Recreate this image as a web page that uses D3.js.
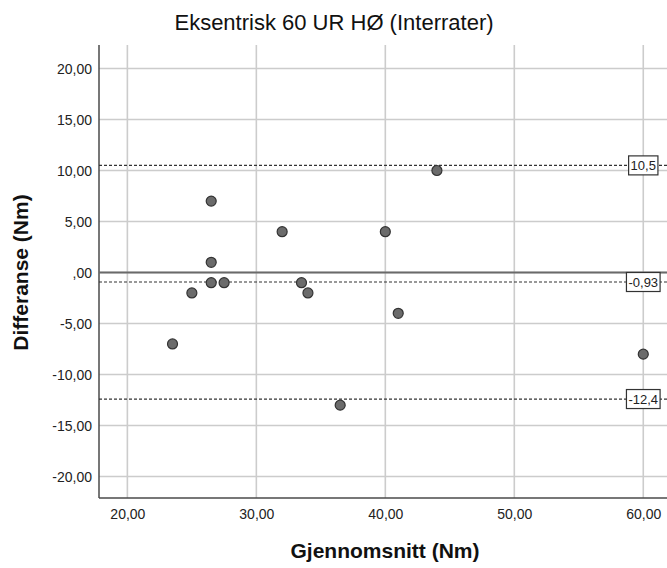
<!DOCTYPE html>
<html>
<head>
<meta charset="utf-8">
<script src="https://cdn.jsdelivr.net/npm/d3@7"></script>
<style>
  html, body { margin: 0; padding: 0; background: #fff; }
  svg { display: block; font-family: "Liberation Sans", Arial, sans-serif; }
</style>
</head>
<body>
<svg id="chart" width="667" height="568"></svg>
<script>
// Bland-Altman data: mean of the two raters vs. their difference
const meanVals = [23.5, 25, 26.5, 26.5, 26.5, 27.5, 32, 33.5, 34, 36.5, 40, 41, 44, 60];
const diffVals = [-7, -2, 7, 1, -1, -1, 4, -1, -2, -13, 4, -4, 10, -8];

// Reference lines: upper limit, mean difference, lower limit
const refVals = [10.5, -0.93, -12.4];
const refLabels = ["10,5", "-0,93", "-12,4"];

const xTicks = [20, 30, 40, 50, 60];
const xTickLabels = ["20,00", "30,00", "40,00", "50,00", "60,00"];
const yTicks = [-20, -15, -10, -5, 0, 5, 10, 15, 20];
const yTickLabels = ["-20,00", "-15,00", "-10,00", "-5,00", ",00", "5,00", "10,00", "15,00", "20,00"];

const titleText = "Eksentrisk 60 UR HØ (Interrater)";
const xTitle = "Gjennomsnitt (Nm)";
const yTitle = "Differanse (Nm)";

const svg = d3.select("#chart");
const W = 667, H = 568;
const plot = { left: 99, right: 667, top: 45, bottom: 498 };

const x = d3.scaleLinear().domain([17.8, 61.84]).range([plot.left, plot.right]);
const y = d3.scaleLinear().domain([-22.1, 22.3]).range([plot.bottom, plot.top]);

// grid lines
const grid = svg.append("g");
grid.selectAll("line.gx").data(xTicks).join("line")
  .attr("x1", d => x(d)).attr("x2", d => x(d))
  .attr("y1", plot.top).attr("y2", plot.bottom)
  .attr("stroke", "#cccccc").attr("stroke-width", 1.6);
grid.selectAll("line.gy").data(yTicks).join("line")
  .attr("x1", plot.left).attr("x2", plot.right)
  .attr("y1", d => y(d)).attr("y2", d => y(d))
  .attr("stroke", "#cccccc").attr("stroke-width", 1.6);

// axes
const xAxis = d3.axisBottom(x).tickValues(xTicks)
  .tickFormat((d, i) => xTickLabels[i]).tickSize(0).tickPadding(11);
const yAxis = d3.axisLeft(y).tickValues(yTicks)
  .tickFormat((d, i) => yTickLabels[i]).tickSize(0).tickPadding(7);

const gx = svg.append("g").attr("transform", `translate(0,${plot.bottom})`).call(xAxis);
const gy = svg.append("g").attr("transform", `translate(${plot.left},0)`).call(yAxis);
[gx, gy].forEach(g => {
  g.select(".domain").remove();
  g.selectAll("text").attr("font-size", 14).attr("fill", "#222")
    .attr("font-family", "Liberation Sans, Arial, sans-serif");
});
gy.selectAll("text").attr("dy", "0.35em");

svg.append("line")
  .attr("x1", plot.left).attr("x2", plot.left)
  .attr("y1", plot.top).attr("y2", plot.bottom)
  .attr("stroke", "#4a4a4a").attr("stroke-width", 1.5);
svg.append("line")
  .attr("x1", plot.left).attr("x2", plot.right)
  .attr("y1", plot.bottom).attr("y2", plot.bottom)
  .attr("stroke", "#4a4a4a").attr("stroke-width", 1.5);

// zero line
svg.append("line")
  .attr("x1", plot.left).attr("x2", plot.right)
  .attr("y1", y(0)).attr("y2", y(0))
  .attr("stroke", "#6a6a6a").attr("stroke-width", 2);

// dashed reference lines
svg.append("g").selectAll("line").data(refVals).join("line")
  .attr("x1", plot.left).attr("x2", plot.right)
  .attr("y1", d => y(d)).attr("y2", d => y(d))
  .attr("stroke", "#333").attr("stroke-width", 1.2)
  .attr("stroke-dasharray", "3,2");

// points
svg.append("g").selectAll("circle").data(meanVals).join("circle")
  .attr("cx", d => x(d))
  .attr("cy", (d, i) => y(diffVals[i]))
  .attr("r", 5)
  .attr("fill", "#6b6b6b")
  .attr("stroke", "#333")
  .attr("stroke-width", 1.2);

// reference labels
const labelX = x(60);
const lg = svg.append("g").selectAll("g").data(refVals).join("g")
  .attr("transform", d => `translate(${labelX},${y(d)})`);
lg.each(function(d, i) {
  const g = d3.select(this);
  const rect = g.append("rect");
  const t = g.append("text")
    .attr("text-anchor", "middle").attr("dy", "0.36em")
    .attr("font-size", 13).attr("fill", "#222")
    .text(refLabels[i]);
  const bb = t.node().getBBox();
  rect.attr("x", bb.x - 2).attr("y", -9.5)
    .attr("width", bb.width + 4).attr("height", 19)
    .attr("fill", "#fff").attr("stroke", "#333").attr("stroke-width", 1.2);
});

// titles
svg.append("text")
  .attr("x", 334).attr("y", 30)
  .attr("text-anchor", "middle").attr("font-size", 22).attr("fill", "#111")
  .text(titleText);
svg.append("text")
  .attr("x", 385).attr("y", 558)
  .attr("text-anchor", "middle").attr("font-size", 21).attr("font-weight", "bold").attr("fill", "#111")
  .text(xTitle);
svg.append("text")
  .attr("transform", `translate(28,${y(0)}) rotate(-90)`)
  .attr("text-anchor", "middle").attr("font-size", 21).attr("font-weight", "bold").attr("fill", "#111")
  .text(yTitle);
</script>
</body>
</html>
